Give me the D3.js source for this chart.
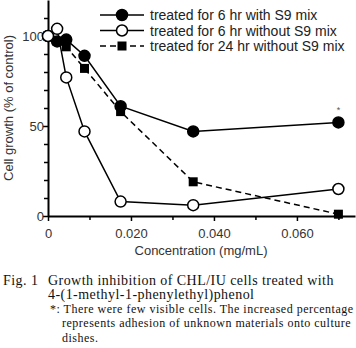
<!DOCTYPE html>
<html>
<head>
<meta charset="utf-8">
<script src="https://cdn.jsdelivr.net/npm/d3@7"></script>
<style>
  body { margin: 0; background: #fff; }
  svg { display: block; }
</style>
</head>
<body>
<div id="chart"></div>
<script>
// concentration (mg/mL) and growth (% of control)
const conc = [0, 0.0022, 0.0044, 0.0088, 0.0175, 0.035, 0.070];
const withS9 = [100, 97, 98, 89, 61, 47, 52];
const withoutS9 = [100, 104, 77, 47, 8, 6, 15];
const without24 = [100, 97, 94, 82, 58, 19, 1];

const seriesNames = [
  'treated for 6 hr with S9 mix',
  'treated for 6 hr without S9 mix',
  'treated for 24 hr without S9 mix'
];
const xTickLabels = ['0', '0.020', '0.040', '0.060'];
const yTickLabels = ['0', '50', '100'];

const width = 356, height = 348;
const svg = d3.select('#chart').append('svg')
  .attr('width', width)
  .attr('height', height);

const sans = 'Liberation Sans, Arial, sans-serif';
const serif = 'Liberation Serif, DejaVu Serif, serif';

const x = d3.scaleLinear().domain([0, 0.074]).range([48, 355]);
const y = d3.scaleLinear().domain([0, 120]).range([216, 0]);

//Axes: minor ticks first, then labelled major ticks
const g = svg.append('g');

g.append('g')
  .attr('transform', 'translate(0,216)')
  .call(d3.axisBottom(x).tickValues(d3.range(0.01, 0.075, 0.02)).tickSize(4).tickFormat(''))
  .call(a => a.select('.domain').remove());

g.append('g')
  .attr('transform', 'translate(48,0)')
  .call(d3.axisLeft(y).tickValues([10, 20, 30, 40, 60, 70, 80, 90, 110]).tickSize(4).tickFormat(''))
  .call(a => a.select('.domain').remove());

const xAxis = g.append('g')
  .attr('transform', 'translate(0,216)')
  .call(d3.axisBottom(x).tickValues(xTickLabels.map(Number)).tickSize(5).tickSizeOuter(0)
    .tickFormat((d, i) => xTickLabels[i]));

const yAxis = g.append('g')
  .attr('transform', 'translate(48,0)')
  .call(d3.axisLeft(y).tickValues(yTickLabels.map(Number)).tickSize(5).tickSizeOuter(0)
    .tickFormat((d, i) => yTickLabels[i]));

g.selectAll('.domain').attr('stroke', '#000').attr('stroke-width', 2);
g.selectAll('.tick line').attr('stroke', '#000').attr('stroke-width', 1.5);
g.selectAll('.tick text')
  .style('font-family', sans)
  .style('font-size', '13px')
  .attr('fill', '#333');
xAxis.selectAll('.tick text').attr('dy', '1.05em');
yAxis.selectAll('.tick text').attr('x', -4);

//Axis titles
svg.append('text')
  .attr('x', 201).attr('y', 255)
  .attr('text-anchor', 'middle')
  .style('font-family', sans).style('font-size', '13px')
  .attr('fill', '#333')
  .text('Concentration (mg/mL)');

svg.append('text')
  .attr('transform', 'translate(13,108) rotate(-90)')
  .attr('text-anchor', 'middle')
  .style('font-family', sans).style('font-size', '13px')
  .attr('fill', '#333')
  .text('Cell growth (% of control)');

//Lines and markers
const series = [
  { name: seriesNames[0], values: withS9, marker: 'filledCircle', dash: null },
  { name: seriesNames[1], values: withoutS9, marker: 'openCircle', dash: null },
  { name: seriesNames[2], values: without24, marker: 'square', dash: '6,4' }
];

const line = d3.line()
  .x(d => x(d[0]))
  .y(d => y(d[1]));

function drawMarker(sel, type) {
  if (type === 'square') {
    sel.append('rect')
      .attr('x', -4.5).attr('y', -4.5)
      .attr('width', 9).attr('height', 9)
      .attr('fill', '#000');
  } else {
    sel.append('circle')
      .attr('r', 5.5)
      .attr('fill', type === 'openCircle' ? '#fff' : '#000')
      .attr('stroke', '#000')
      .attr('stroke-width', 1.5);
  }
}

const plot = svg.append('g');
series.forEach(s => {
  const pts = conc.map((c, i) => [c, s.values[i]]);
  plot.append('path')
    .attr('d', line(pts))
    .attr('fill', 'none')
    .attr('stroke', '#000')
    .attr('stroke-width', 1.5)
    .attr('stroke-dasharray', s.dash);
});

//draw in order so open circles sit on top at 0
[2, 0, 1].forEach(k => {
  const s = series[k];
  conc.forEach((c, i) => {
    const m = plot.append('g')
      .attr('transform', 'translate(' + x(c) + ',' + y(s.values[i]) + ')');
    drawMarker(m, s.marker);
  });
});

//asterisk over last point
svg.append('text')
  .attr('x', x(conc[6])).attr('y', y(withS9[6]) - 9)
  .attr('text-anchor', 'middle')
  .style('font-family', sans).style('font-size', '9px')
  .attr('fill', '#555')
  .text('*');

//Legend
const legend = svg.append('g');
series.forEach((s, i) => {
  const ly = 15 + i * 15.5;
  const row = legend.append('g').attr('transform', 'translate(0,' + ly + ')');
  row.append('line')
    .attr('x1', 100).attr('x2', 144)
    .attr('stroke', '#000').attr('stroke-width', 1.5)
    .attr('stroke-dasharray', s.dash);
  const m = row.append('g').attr('transform', 'translate(122,0)');
  drawMarker(m, s.marker);
  row.append('text')
    .attr('x', 150).attr('y', 5)
    .style('font-family', sans).style('font-size', '14px')
    .attr('fill', '#222')
    .text(s.name);
});

//Caption
const cap = svg.append('g')
  .style('font-family', serif)
  .attr('fill', '#111');

const main = cap.append('g').style('font-size', '14px').style('letter-spacing', '0.45px');
main.append('text').attr('x', 3).attr('y', 285).text('Fig. 1');
main.append('text').attr('x', 48).attr('y', 285)
  .text('Growth inhibition of CHL/IU cells treated with');
main.append('text').attr('x', 48).attr('y', 299)
  .text('4-(1-methyl-1-phenylethyl)phenol');

const note = cap.append('g').style('font-size', '12px').style('letter-spacing', '0.5px');
note.append('text').attr('x', 50).attr('y', 313)
  .text('*: There were few visible cells.  The increased percentage');
note.append('text').attr('x', 62).attr('y', 327)
  .text('represents adhesion of unknown materials onto culture');
note.append('text').attr('x', 62).attr('y', 342)
  .text('dishes.');
</script>
</body>
</html>
